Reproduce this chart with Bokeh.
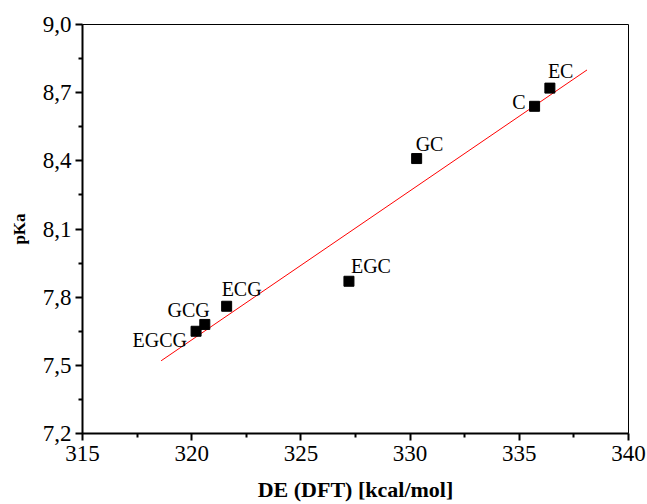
from bokeh.plotting import figure
from bokeh.models import ColumnDataSource, LabelSet, FixedTicker, Range1d
from bokeh.embed import file_html
from bokeh.resources import INLINE

# Data
names = ["EC", "C", "GC", "EGC", "ECG", "GCG", "EGCG"]
de_dft = [336.4, 335.7, 330.3, 327.2, 321.6, 320.6, 320.2]
pka = [8.72, 8.64, 8.41, 7.87, 7.76, 7.68, 7.65]

# Linear fit line end points
fit_x = [318.6, 338.1]
fit_y = [7.52, 8.80]

x_ticks = [315, 320, 325, 330, 335, 340]
y_ticks = [7.2, 7.5, 7.8, 8.1, 8.4, 8.7, 9.0]
y_tick_labels = ["7,2", "7,5", "7,8", "8,1", "8,4", "8,7", "9,0"]

# label placement (pixels, style)
lab_dx = [-2, -9, -1, 2, -5, 5, -9]
lab_dy = [10, -3, 8, 8, 10, 7, -16]
lab_align = ["left", "right", "left", "left", "left", "right", "right"]

FONT = "'Liberation Serif', 'Times New Roman', Times, serif"

p = figure(width=647, height=504, output_backend="svg", toolbar_location=None,
           x_range=Range1d(315, 340), y_range=Range1d(7.2, 9.0),
           min_border_left=82, min_border_right=19, min_border_top=24,
           min_border_bottom=71)
p.background_fill_color = "white"
p.border_fill_color = "white"
p.grid.visible = False
p.outline_line_color = "black"
p.outline_line_width = 1

p.line(fit_x, fit_y, line_color="red", line_width=1)
src = ColumnDataSource(dict(x=de_dft, y=pka, name=names, dx=lab_dx, dy=lab_dy, align=lab_align))
p.scatter("x", "y", source=src, marker="square", size=10, fill_color="black", line_color="black")

labels = LabelSet(x="x", y="y", text="name", source=src, x_offset="dx", y_offset="dy",
                  text_align="align", text_baseline="alphabetic",
                  text_font=FONT, text_font_size="20px", text_color="black")
p.add_layout(labels)

p.xaxis.ticker = FixedTicker(ticks=x_ticks, minor_ticks=[317.5, 322.5, 327.5, 332.5, 337.5])
p.yaxis.ticker = FixedTicker(ticks=y_ticks, minor_ticks=[7.35, 7.65, 7.95, 8.25, 8.55, 8.85])
p.yaxis.major_label_overrides = {t: l for t, l in zip(y_ticks, y_tick_labels)}

for ax in (p.xaxis, p.yaxis):
    ax.axis_line_width = 2
    ax.axis_line_color = "black"
    ax.major_tick_line_width = 2
    ax.minor_tick_line_width = 2
    ax.major_tick_out = 7
    ax.major_tick_in = 0
    ax.minor_tick_out = 4
    ax.minor_tick_in = 0
    ax.major_label_text_font = FONT
    ax.major_label_text_font_size = "23px"
    ax.major_label_text_color = "black"
    ax.axis_label_text_font = FONT
    ax.axis_label_text_font_style = "bold"
    ax.axis_label_text_color = "black"

p.yaxis.major_label_orientation = "horizontal"
p.xaxis.axis_label = "DE (DFT) [kcal/mol]"
p.yaxis.axis_label = "pKa"
p.xaxis.axis_label_text_font_size = "22px"
p.yaxis.axis_label_text_font_size = "17px"
p.xaxis.major_label_standoff = 5
p.yaxis.major_label_standoff = 4
p.xaxis.axis_label_standoff = 13
p.yaxis.axis_label_standoff = 11

open("out.html", "w").write(file_html(p, INLINE))
